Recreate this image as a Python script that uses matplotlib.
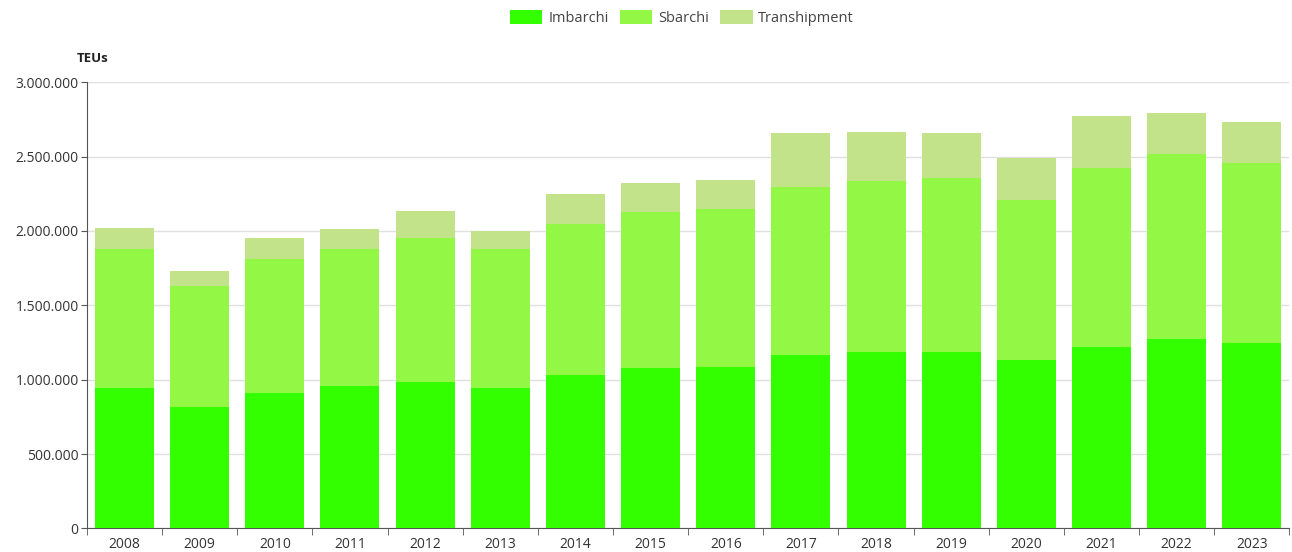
import numpy as np
import matplotlib.pyplot as plt
from matplotlib.ticker import FuncFormatter, FixedLocator

# dati (TEUs)
anni = ['2008', '2009', '2010', '2011', '2012', '2013', '2014', '2015',
        '2016', '2017', '2018', '2019', '2020', '2021', '2022', '2023']
imbarchi = [942000, 814000, 908000, 958000, 986000, 946000, 1031000, 1076000,
            1087000, 1166000, 1184000, 1184000, 1132000, 1222000, 1271000, 1244000]
sbarchi = [936000, 817000, 901000, 920000, 968000, 930000, 1015000, 1052000,
           1064000, 1127000, 1153000, 1169000, 1075000, 1199000, 1245000, 1216000]
transhipment = [142000, 99000, 141000, 137000, 180000, 123000, 206000, 198000,
                195000, 365000, 329000, 309000, 287000, 354000, 274000, 273000]

plt.rcParams['font.family'] = ['Open Sans', 'DejaVu Sans']

fig = plt.figure(figsize=(12.92, 5.52), dpi=100)
ax = fig.add_axes([0.0673, 0.0426, 0.9307, 0.8084])

x = np.arange(len(anni))
w = 0.785
imb = np.array(imbarchi)
sb = np.array(sbarchi)
tr = np.array(transhipment)
ax.bar(x, imb, w, color='#33ff00', label='Imbarchi', zorder=3)
ax.bar(x, sb, w, bottom=imb, color='#93f746', label='Sbarchi', zorder=3)
ax.bar(x, tr, w, bottom=imb + sb, color='#c3e38b', label='Transhipment', zorder=3)

ax.set_xlim(-0.5, len(anni) - 0.5)
ax.set_ylim(0, 3000000)
ax.set_yticks(np.arange(0, 3000001, 500000))
ax.yaxis.set_major_formatter(FuncFormatter(lambda v, p: f'{int(v):,}'.replace(',', '.')))
ax.set_xticks(x)
ax.set_xticklabels(anni)
ax.xaxis.set_minor_locator(FixedLocator(np.arange(-0.5, len(anni), 1)))
ax.tick_params(axis='x', which='major', length=0, labelsize=10, colors='#333333', pad=6)
ax.tick_params(axis='x', which='minor', length=5, color='#555555')
ax.tick_params(axis='y', length=4, color='#555555', labelsize=10, labelcolor='#333333', pad=2)

ax.grid(axis='y', color='#e0e0e0', linewidth=1, zorder=0)
for s in ['top', 'right']:
    ax.spines[s].set_visible(False)
ax.spines['left'].set_color('#555555')
ax.spines['bottom'].set_color('#555555')

fig.text(0.072, 0.888, 'TEUs', fontsize=9.5, fontweight='bold', ha='center', color='#222222')

fig.legend(loc='upper center', bbox_to_anchor=(0.528, 1.005), ncol=3, frameon=False,
           fontsize=10.5, handlelength=2.2, handleheight=1.1, columnspacing=0.8,
           handletextpad=0.4, labelcolor='#444444')

plt.savefig('out.png', dpi=100)
